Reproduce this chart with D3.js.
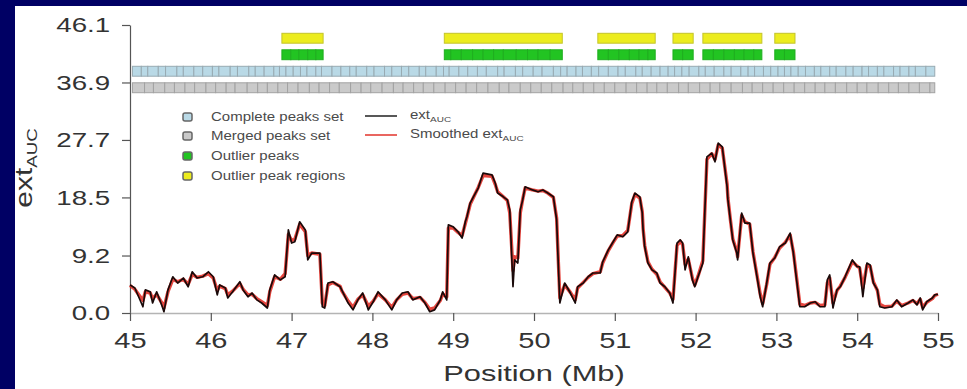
<!DOCTYPE html>
<html>
<head>
<meta charset="utf-8">
<script src="https://cdn.jsdelivr.net/npm/d3@7"></script>
<style>
  html, body { margin: 0; padding: 0; background: #000064; }
  svg { display: block; }
  text { font-family: "Liberation Sans", Arial, Helvetica, sans-serif; }
</style>
</head>
<body>
<svg id="chart" width="967" height="389"></svg>
<script>
// Axis ticks
const xTicks = [45, 46, 47, 48, 49, 50, 51, 52, 53, 54, 55];
const yTicks = [0.0, 9.2, 18.5, 27.7, 36.9, 46.1];

// Annotation tracks, top to bottom
const trackNames = ["Outlier peak regions", "Outlier peaks", "Complete peaks set", "Merged peaks set"];

// Peak boundaries (Mb) for the two peak-set tracks
const completeBounds = [45.03, 45.14, 45.22, 45.35, 45.44, 45.58, 45.66, 45.79, 45.90, 46.02, 46.10, 46.24,
  46.33, 46.47, 46.55, 46.66, 46.78, 46.85, 46.93, 47.02, 47.11, 47.19, 47.30, 47.37, 47.50, 47.61, 47.72,
  47.80, 47.93, 48.02, 48.15, 48.24, 48.36, 48.45, 48.58, 48.66, 48.79, 48.88, 48.95, 49.07, 49.18, 49.30,
  49.41, 49.55, 49.63, 49.77, 49.86, 49.99, 50.10, 50.24, 50.33, 50.41, 50.52, 50.60, 50.71, 50.80, 50.92,
  51.04, 51.13, 51.26, 51.34, 51.45, 51.56, 51.66, 51.74, 51.83, 51.92, 52.04, 52.12, 52.23, 52.35, 52.44,
  52.56, 52.65, 52.73, 52.84, 52.93, 53.02, 53.10, 53.18, 53.27, 53.36, 53.47, 53.55, 53.66, 53.74, 53.86,
  53.95, 54.06, 54.14, 54.25, 54.33, 54.45, 54.53, 54.64, 54.72, 54.85, 54.96];
const mergedBounds = [45.03, 45.18, 45.29, 45.43, 45.55, 45.68, 45.80, 45.94, 46.06, 46.19, 46.30, 46.45,
  46.58, 46.70, 46.83, 46.95, 47.08, 47.22, 47.34, 47.47, 47.59, 47.73, 47.86, 47.98, 48.12, 48.26, 48.38,
  48.51, 48.63, 48.76, 48.90, 49.03, 49.16, 49.29, 49.43, 49.57, 49.69, 49.83, 49.96, 50.09, 50.22, 50.36,
  50.48, 50.61, 50.74, 50.87, 51.00, 51.14, 51.27, 51.40, 51.52, 51.65, 51.79, 51.91, 52.05, 52.18, 52.30,
  52.44, 52.58, 52.70, 52.83, 52.96, 53.09, 53.22, 53.35, 53.48, 53.60, 53.73, 53.87, 54.00, 54.12, 54.26,
  54.39, 54.51, 54.64, 54.77, 54.90, 54.96];

// Outlier peaks and the regions they merge into [start, end] (Mb)
const outlierPeaks = [
  [46.88, 46.99], [46.99, 47.09], [47.09, 47.20], [47.20, 47.30], [47.30, 47.39],
  [48.89, 48.97], [48.97, 49.10], [49.10, 49.24], [49.24, 49.37], [49.37, 49.50], [49.50, 49.62],
  [49.62, 49.78], [49.78, 49.92], [49.92, 50.05], [50.05, 50.20], [50.20, 50.35],
  [50.79, 50.92], [50.92, 51.05], [51.05, 51.18], [51.18, 51.30], [51.30, 51.41], [51.41, 51.50],
  [51.72, 51.84], [51.84, 51.97],
  [52.09, 52.22], [52.22, 52.35], [52.35, 52.48], [52.48, 52.60], [52.60, 52.72], [52.72, 52.82],
  [52.98, 53.10], [53.10, 53.23]
];
const outlierRegions = [[46.88, 47.39], [48.89, 50.35], [50.79, 51.50], [51.72, 51.97], [52.09, 52.82], [52.98, 53.23]];

// ext_AUC profile [position Mb, value]
const extAuc = [[45.00,4.5],[45.06,4.0],[45.16,1.0],[45.19,3.7],[45.25,3.4],[45.28,1.6],[45.33,3.4],[45.40,1.0],
  [45.42,0.2],[45.47,3.7],[45.53,5.8],[45.59,4.8],[45.66,5.6],[45.72,4.2],[45.77,6.6],[45.83,5.6],[45.90,5.8],
  [45.97,6.6],[46.03,5.8],[46.08,2.9],[46.11,4.5],[46.18,4.0],[46.21,2.4],[46.27,3.4],[46.36,5.0],[46.40,3.7],
  [46.46,2.6],[46.51,3.2],[46.57,2.1],[46.63,1.6],[46.70,0.8],[46.73,3.7],[46.79,6.1],[46.86,5.3],[46.92,5.8],
  [46.96,13.3],[47.00,11.2],[47.04,11.4],[47.10,14.6],[47.17,13.3],[47.20,8.5],[47.25,9.6],[47.35,9.6],
  [47.38,1.0],[47.41,0.8],[47.45,4.8],[47.51,5.0],[47.60,4.2],[47.62,3.7],[47.70,1.6],[47.76,0.5],[47.82,2.1],
  [47.88,3.2],[47.95,0.5],[48.01,1.8],[48.07,3.4],[48.16,2.1],[48.24,0.5],[48.30,2.1],[48.37,3.2],[48.44,3.4],
  [48.50,2.1],[48.59,2.6],[48.65,1.6],[48.71,0.2],[48.77,0.5],[48.84,2.1],[48.87,3.4],[48.92,2.1],[48.94,14.1],
  [49.00,13.8],[49.06,13.0],[49.11,12.0],[49.15,14.6],[49.17,15.4],[49.21,17.6],[49.25,18.6],[49.31,20.0],
  [49.37,22.4],[49.48,22.1],[49.52,20.8],[49.55,19.2],[49.62,18.6],[49.67,18.1],[49.70,16.5],[49.74,4.2],
  [49.76,8.5],[49.80,8.0],[49.83,16.5],[49.86,18.1],[49.89,20.2],[49.98,19.7],[50.05,19.4],[50.11,19.7],
  [50.17,19.2],[50.24,18.6],[50.28,14.9],[50.30,8.0],[50.32,1.6],[50.38,4.8],[50.45,3.2],[50.51,1.6],[50.54,4.2],
  [50.61,4.8],[50.67,5.8],[50.73,6.4],[50.82,6.4],[50.85,8.2],[50.92,10.1],[50.98,11.4],[51.03,12.5],[51.10,12.2],
  [51.16,13.0],[51.21,17.8],[51.25,19.2],[51.31,18.6],[51.34,16.0],[51.35,13.3],[51.37,10.6],[51.41,8.0],
  [51.46,6.9],[51.52,6.4],[51.56,4.8],[51.62,4.2],[51.68,3.2],[51.72,1.6],[51.77,11.2],[51.81,11.7],[51.84,11.2],
  [51.87,6.9],[51.91,9.0],[51.96,5.3],[51.99,4.2],[52.03,5.8],[52.09,8.0],[52.14,25.0],[52.20,25.6],[52.24,24.2],
  [52.28,27.2],[52.33,26.6],[52.39,20.2],[52.40,18.1],[52.43,14.9],[52.46,11.7],[52.51,9.6],[52.52,8.5],
  [52.57,16.0],[52.61,14.4],[52.67,14.4],[52.71,9.6],[52.76,5.8],[52.80,2.6],[52.83,1.0],[52.88,4.8],[52.92,8.0],
  [52.98,8.8],[53.04,10.6],[53.11,11.2],[53.17,12.8],[53.21,9.6],[53.25,5.3],[53.29,1.0],[53.35,1.0],[53.42,1.6],
  [53.48,1.8],[53.54,1.0],[53.60,1.0],[53.63,5.3],[53.66,6.1],[53.70,0.8],[53.75,3.7],[53.79,4.2],[53.85,5.8],
  [53.94,8.5],[54.00,7.4],[54.03,7.4],[54.07,2.6],[54.12,8.0],[54.16,7.7],[54.20,4.8],[54.25,3.7],[54.28,1.0],
  [54.34,0.8],[54.43,1.0],[54.49,2.1],[54.55,1.0],[54.63,1.6],[54.69,2.1],[54.74,1.3],[54.78,2.4],[54.81,0.5],
  [54.86,1.8],[54.93,2.4],[54.96,2.9],[55.00,3.0]];

// Smoothed ext_AUC profile [position Mb, value]
const smoothedExtAuc = [[45.00,4.4],[45.06,3.8],[45.16,2.0],[45.19,3.4],[45.25,3.2],[45.28,2.3],[45.33,3.0],[45.40,1.5],
  [45.42,0.8],[45.47,3.4],[45.53,5.4],[45.59,5.0],[45.66,5.4],[45.72,4.6],[45.77,6.2],[45.83,5.7],[45.90,5.9],
  [45.97,6.3],[46.03,5.6],[46.08,3.6],[46.11,4.3],[46.18,3.9],[46.21,2.9],[46.27,3.5],[46.36,4.7],[46.40,3.8],
  [46.46,2.9],[46.51,3.0],[46.57,2.3],[46.63,1.8],[46.70,1.2],[46.73,3.4],[46.79,5.8],[46.86,5.4],[46.92,6.3],
  [46.96,12.6],[47.00,11.6],[47.04,11.8],[47.10,14.2],[47.17,13.0],[47.20,9.2],[47.25,9.6],[47.35,9.4],
  [47.38,1.6],[47.41,1.2],[47.45,4.5],[47.51,4.9],[47.60,4.3],[47.62,3.6],[47.70,1.9],[47.76,0.9],[47.82,2.2],
  [47.88,2.9],[47.95,1.1],[48.01,1.9],[48.07,3.1],[48.16,2.1],[48.24,0.9],[48.30,2.1],[48.37,3.0],[48.44,3.2],
  [48.50,2.3],[48.59,2.5],[48.65,1.7],[48.71,0.6],[48.77,0.8],[48.84,2.0],[48.87,3.0],[48.92,2.6],[48.94,13.6],
  [49.00,13.6],[49.06,12.9],[49.11,12.4],[49.15,14.3],[49.17,15.3],[49.21,17.4],[49.25,18.5],[49.31,20.1],
  [49.37,22.0],[49.48,21.9],[49.52,20.6],[49.55,19.4],[49.62,18.6],[49.67,18.0],[49.70,16.0],[49.74,6.8],
  [49.76,9.0],[49.80,8.8],[49.83,16.0],[49.86,18.2],[49.89,20.0],[49.98,19.7],[50.05,19.5],[50.11,19.6],
  [50.17,19.2],[50.24,18.5],[50.28,15.2],[50.30,8.6],[50.32,2.4],[50.38,4.5],[50.45,3.3],[50.51,2.1],[50.54,4.0],
  [50.61,4.9],[50.67,5.7],[50.73,6.3],[50.82,6.6],[50.85,8.0],[50.92,10.0],[50.98,11.3],[51.03,12.3],[51.10,12.4],
  [51.16,13.2],[51.21,17.5],[51.25,19.0],[51.31,18.4],[51.34,16.2],[51.35,13.6],[51.37,10.8],[51.41,8.2],
  [51.46,7.0],[51.52,6.2],[51.56,5.0],[51.62,4.1],[51.68,3.2],[51.72,2.2],[51.77,10.8],[51.81,11.5],[51.84,10.9],
  [51.87,7.8],[51.91,8.6],[51.96,5.6],[51.99,4.5],[52.03,5.9],[52.09,8.4],[52.14,24.6],[52.20,25.5],[52.24,24.6],
  [52.28,26.9],[52.33,26.4],[52.39,20.6],[52.40,18.4],[52.43,15.0],[52.46,11.9],[52.51,9.8],[52.52,9.0],
  [52.57,15.6],[52.61,14.6],[52.67,14.2],[52.71,9.8],[52.76,6.0],[52.80,3.0],[52.83,1.5],[52.88,4.6],[52.92,7.8],
  [52.98,8.9],[53.04,10.4],[53.11,11.3],[53.17,12.5],[53.21,9.8],[53.25,5.6],[53.29,1.4],[53.35,1.2],[53.42,1.6],
  [53.48,1.7],[53.54,1.2],[53.60,1.3],[53.63,4.8],[53.66,5.6],[53.70,1.6],[53.75,3.6],[53.79,4.3],[53.85,5.7],
  [53.94,8.2],[54.00,7.5],[54.03,7.2],[54.07,4.0],[54.12,7.6],[54.16,7.5],[54.20,5.0],[54.25,3.6],[54.28,1.4],
  [54.34,1.0],[54.43,1.1],[54.49,1.9],[54.55,1.2],[54.63,1.6],[54.69,2.0],[54.74,1.5],[54.78,2.2],[54.81,0.9],
  [54.86,1.7],[54.93,2.3],[54.96,2.8],[55.00,3.0]];

const legendItems = [
  { label: "Complete peaks set", fill: "#b9d9e6" },
  { label: "Merged peaks set", fill: "#c9c9c9" },
  { label: "Outlier peaks", fill: "#22c422" },
  { label: "Outlier peak regions", fill: "#ecec1e" }
];

const TEXT = "#333333";
const SX = 1.32; // horizontal widening of glyphs

const svg = d3.select("#chart");

// white panel inside the navy frame
svg.append("rect")
  .attr("x", 15).attr("y", 6).attr("width", 952).attr("height", 383)
  .attr("fill", "#ffffff");

const x = d3.scaleLinear().domain([45, 55]).range([130, 938]);
const y = d3.scaleLinear().domain([0, 46.1]).range([313, 25]);
const track = d3.scaleBand().domain(trackNames).range([30, 96])
  .paddingInner(0.4).paddingOuter(0.2);

// ---- annotation tracks ----
const pairs = b => d3.pairs(b);

function drawTrack(name, intervals, fill, stroke) {
  svg.append("g").selectAll("rect").data(intervals).join("rect")
    .attr("x", d => x(d[0]))
    .attr("y", track(name))
    .attr("width", d => x(d[1]) - x(d[0]))
    .attr("height", track.bandwidth())
    .attr("fill", fill)
    .attr("stroke", stroke)
    .attr("stroke-width", 1);
}
drawTrack("Complete peaks set", pairs(completeBounds), "#b9d9e6", "#98aab2");
drawTrack("Merged peaks set", pairs(mergedBounds), "#cacaca", "#a2a2a2");
drawTrack("Outlier peaks", outlierPeaks, "#22c422", "#1fae1f");
drawTrack("Outlier peak regions", outlierRegions, "#ecec1e", "#c4c42a");

// ---- axes ----
const yAxis = d3.axisLeft(y).tickValues(yTicks).tickFormat(d3.format(".1f"))
  .tickSize(8).tickSizeOuter(0).tickPadding(7);
const gy = svg.append("g").attr("transform", "translate(130,0)").call(yAxis);
gy.select(".domain").attr("stroke", "#555").attr("stroke-width", 1.2);
gy.selectAll(".tick line").attr("stroke", "#555").attr("stroke-width", 1.2);
gy.selectAll(".tick text")
  .attr("fill", TEXT).attr("font-size", 21)
  .attr("transform", `scale(${SX},1)`);

const xAxis = d3.axisBottom(x).tickValues(xTicks).tickFormat(d3.format("d"))
  .tickSize(8).tickSizeOuter(0).tickPadding(11);
const gx = svg.append("g").attr("transform", "translate(0,313)").call(xAxis);
gx.select(".domain").attr("stroke", "#b4b4b4").attr("stroke-width", 1.4);
gx.selectAll(".tick line").attr("stroke", "#555").attr("stroke-width", 1.2);
gx.selectAll(".tick text")
  .attr("fill", TEXT).attr("font-size", 22)
  .attr("transform", `scale(${SX},1)`);

// axis titles
svg.append("text")
  .attr("transform", `translate(534,381) scale(1.4,1)`)
  .attr("text-anchor", "middle").attr("font-size", 22).attr("fill", TEXT)
  .text("Position (Mb)");

const yTitle = svg.append("text")
  .attr("transform", "translate(32,168) rotate(-90) scale(1.25,1)")
  .attr("text-anchor", "middle").attr("font-size", 24).attr("fill", TEXT);
yTitle.append("tspan").text("ext");
yTitle.append("tspan").attr("font-size", 15).attr("dy", 5).text("AUC");

// ---- profiles ----
const line = d3.line().x(d => x(d[0])).y(d => y(d[1]));
svg.append("path").datum(smoothedExtAuc)
  .attr("d", line).attr("fill", "none")
  .attr("stroke", "#e0241c").attr("stroke-width", 3.4).attr("stroke-opacity", 0.85)
  .attr("stroke-linejoin", "round");
svg.append("path").datum(extAuc)
  .attr("d", line).attr("fill", "none")
  .attr("stroke", "#1a0a0a").attr("stroke-width", 1.7).attr("stroke-linejoin", "round");

// ---- legend ----
const legendRows = [117, 136, 156, 176];
const lg = svg.append("g");
legendItems.forEach((item, i) => {
  lg.append("rect")
    .attr("x", 183).attr("y", legendRows[i] - 4).attr("width", 9).attr("height", 8).attr("rx", 2)
    .attr("fill", item.fill).attr("stroke", "#666").attr("stroke-width", 1.5);
  lg.append("text")
    .attr("transform", `translate(211,${legendRows[i] + 4}) scale(1.25,1)`)
    .attr("font-size", 12).attr("fill", "#4a4a4a").text(item.label);
});

const lineLegend = [
  { color: "#111", main: "ext", sub: "AUC" },
  { color: "#e0241c", main: "Smoothed ext", sub: "AUC" }
];
lineLegend.forEach((item, i) => {
  const yy = legendRows[i] - 1;
  lg.append("line").attr("x1", 365).attr("x2", 397).attr("y1", yy).attr("y2", yy)
    .attr("stroke", item.color).attr("stroke-width", 1.4);
  const t = lg.append("text")
    .attr("transform", `translate(410,${yy + 3}) scale(1.25,1)`)
    .attr("font-size", 12).attr("fill", "#4a4a4a");
  t.append("tspan").text(item.main);
  t.append("tspan").attr("font-size", 8).attr("dy", 3).text(item.sub);
});
</script>
</body>
</html>
